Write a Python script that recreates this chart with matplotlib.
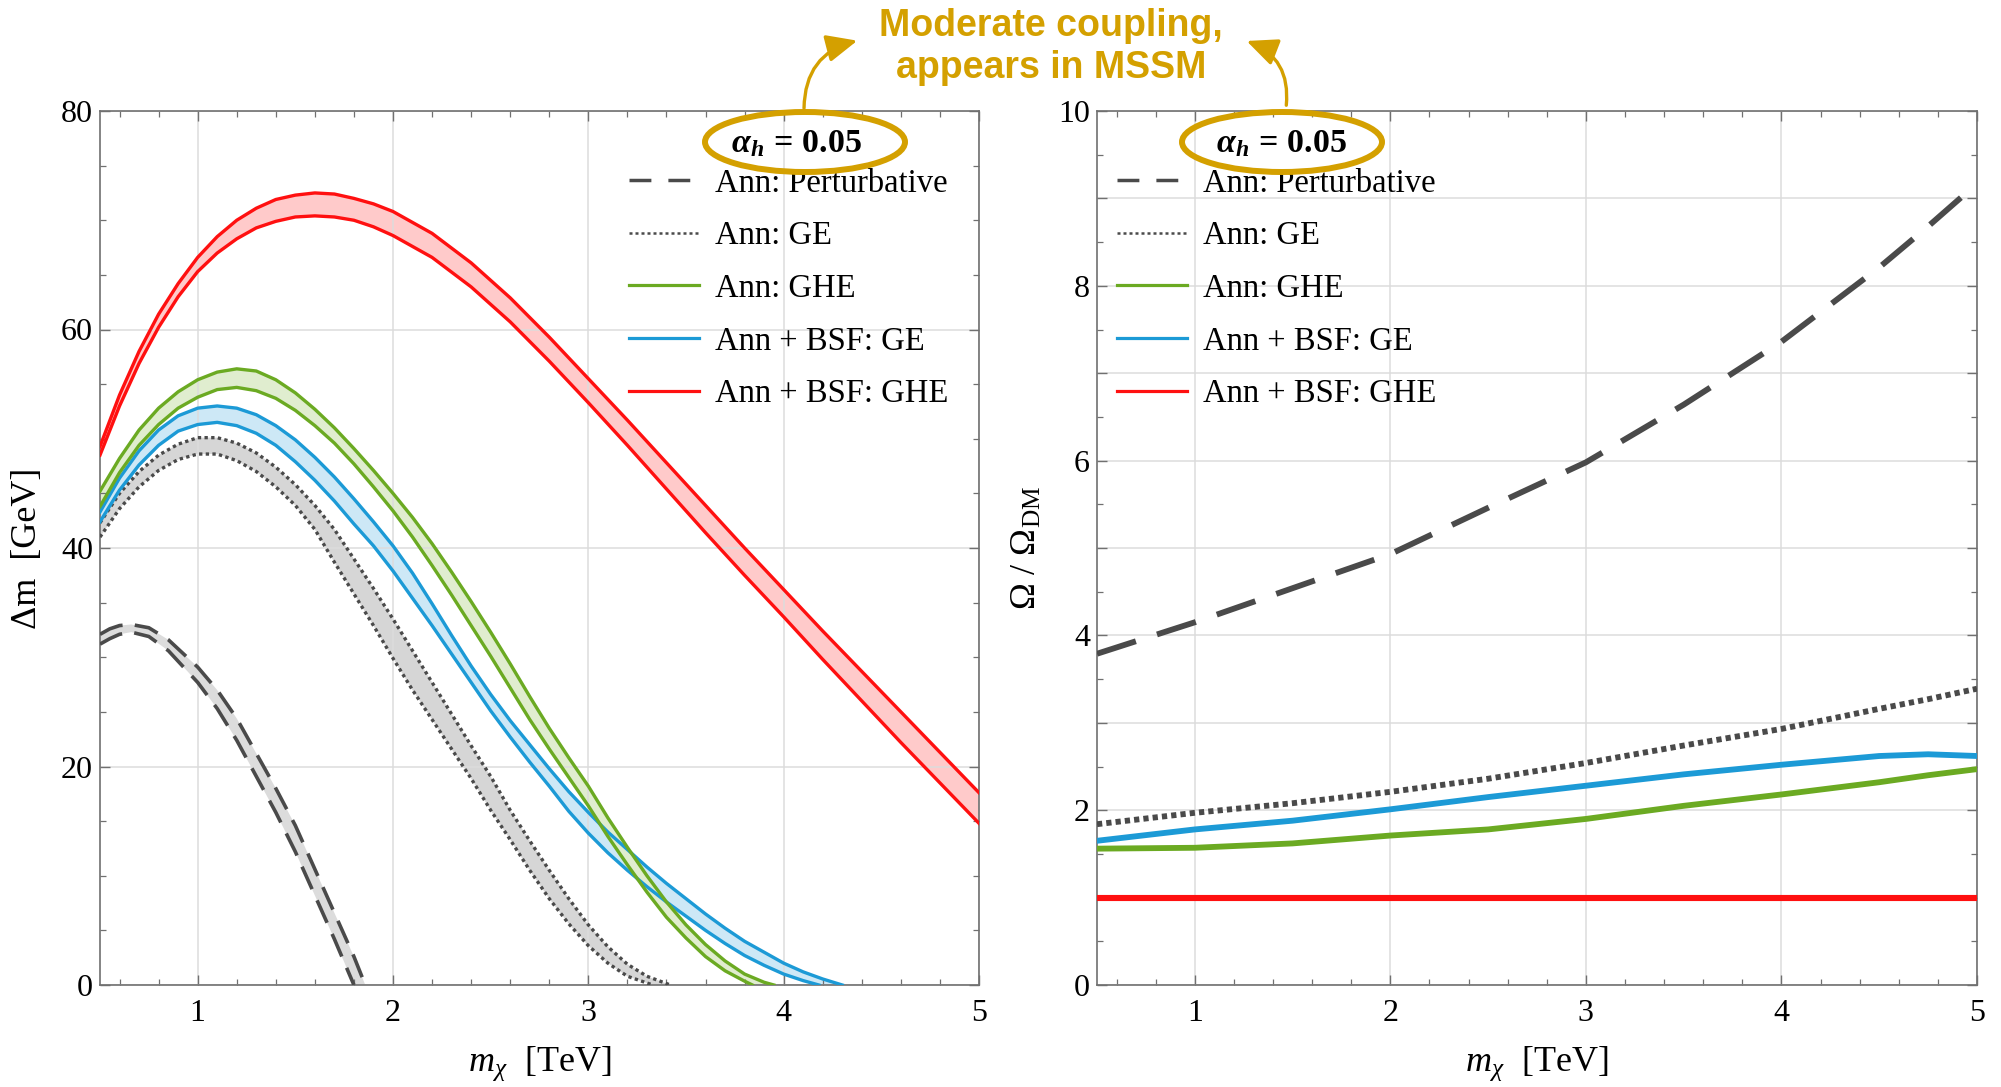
import numpy as np
import matplotlib
matplotlib.use("Agg")
import matplotlib.pyplot as plt
from matplotlib.patches import Ellipse, FancyArrowPatch
from matplotlib.lines import Line2D
from matplotlib.ticker import MultipleLocator, FuncFormatter

plt.rcParams['font.family'] = ['Liberation Serif', 'DejaVu Serif']
plt.rcParams['mathtext.fontset'] = 'custom'
plt.rcParams['mathtext.rm'] = 'Liberation Serif'
plt.rcParams['mathtext.it'] = 'Liberation Serif:italic'
plt.rcParams['mathtext.bf'] = 'Liberation Serif:bold'
plt.rcParams['mathtext.bfit'] = 'Liberation Serif:italic:bold'

# ---- left panel: mass splitting bands (upper / lower edge of each band) ----
# Ann: Perturbative
pert_x_up = [0.5, 0.55, 0.6, 0.66, 0.75, 0.85, 1.0, 1.1, 1.2, 1.3, 1.4, 1.5, 1.6, 1.7, 1.8, 1.858]
pert_up = [32.1, 32.6, 32.9, 33.0, 32.7, 31.6, 29.1, 27.0, 24.4, 21.2, 18.0, 14.6, 10.6, 6.6, 2.6, 0.0]
pert_x_lo = [0.5, 0.55, 0.6, 0.66, 0.75, 0.85, 1.0, 1.1, 1.2, 1.3, 1.4, 1.5, 1.6, 1.7, 1.75, 1.80]
pert_lo = [31.2, 31.7, 32.1, 32.3, 31.9, 30.6, 27.7, 25.3, 22.4, 19.1, 15.8, 12.2, 8.2, 4.2, 2.1, 0.0]

# Ann: GE
ge_x_up = [0.5, 0.6, 0.7, 0.8, 0.9, 1.0, 1.1, 1.2, 1.3, 1.4, 1.5, 1.6, 1.7, 1.8, 1.9, 2.0,
           2.1, 2.2, 2.3, 2.4, 2.5, 2.6, 2.7, 2.8, 2.9, 3.0, 3.1, 3.2, 3.3, 3.42]
ge_up = [42.3, 45.0, 47.0, 48.5, 49.5, 50.1, 50.1, 49.6, 48.7, 47.4, 45.8, 43.9, 41.7, 39.0, 36.3, 33.5,
         30.6, 27.7, 24.8, 21.9, 19.1, 16.0, 13.2, 10.5, 7.9, 5.5, 3.5, 1.9, 0.8, 0.0]
ge_x_lo = [0.5, 0.6, 0.7, 0.8, 0.9, 1.0, 1.1, 1.2, 1.3, 1.4, 1.5, 1.6, 1.7, 1.8, 1.9, 2.0,
           2.1, 2.2, 2.3, 2.4, 2.5, 2.6, 2.7, 2.8, 2.9, 3.0, 3.1, 3.2, 3.33]
ge_lo = [41.0, 43.6, 45.6, 47.1, 48.1, 48.6, 48.6, 48.0, 47.0, 45.6, 43.9, 41.7, 38.7, 35.8, 32.9, 29.9,
         27.0, 24.3, 21.6, 18.9, 16.0, 13.3, 10.5, 7.9, 5.6, 3.6, 2.0, 0.8, 0.0]

# Ann: GHE
ghe_x_up = [0.5, 0.6, 0.7, 0.8, 0.9, 1.0, 1.1, 1.2, 1.3, 1.4, 1.5, 1.6, 1.7, 1.8, 1.9, 2.0, 2.1, 2.2,
            2.3, 2.4, 2.5, 2.6, 2.7, 2.8, 2.9, 3.0, 3.1, 3.2, 3.3, 3.4, 3.5, 3.6, 3.7, 3.8, 3.9, 3.95]
ghe_up = [45.2, 48.2, 50.8, 52.8, 54.3, 55.4, 56.1, 56.4, 56.2, 55.4, 54.2, 52.7, 51.0, 49.1, 47.1, 45.0, 42.8, 40.4,
          37.8, 35.1, 32.3, 29.4, 26.4, 23.5, 20.8, 18.2, 15.3, 12.6, 10.0, 7.6, 5.5, 3.7, 2.2, 1.0, 0.25, 0.0]
ghe_x_lo = [0.5, 0.6, 0.7, 0.8, 0.9, 1.0, 1.1, 1.2, 1.3, 1.4, 1.5, 1.6, 1.7, 1.8, 1.9, 2.0, 2.1, 2.2,
            2.3, 2.4, 2.5, 2.6, 2.7, 2.8, 2.9, 3.0, 3.1, 3.2, 3.3, 3.4, 3.5, 3.6, 3.7, 3.8, 3.84]
ghe_lo = [43.8, 46.9, 49.4, 51.3, 52.8, 53.8, 54.5, 54.7, 54.4, 53.7, 52.6, 51.2, 49.6, 47.7, 45.6, 43.4, 41.0, 38.4,
          35.7, 32.9, 30.1, 27.2, 24.3, 21.6, 19.0, 16.4, 13.6, 11.0, 8.5, 6.2, 4.3, 2.6, 1.3, 0.35, 0.0]

# Ann + BSF: GE
bge_x_up = [0.5, 0.6, 0.7, 0.8, 0.9, 1.0, 1.1, 1.2, 1.3, 1.4, 1.5, 1.6, 1.7, 1.8, 1.9, 2.0, 2.1, 2.2,
            2.3, 2.4, 2.5, 2.6, 2.7, 2.8, 2.9, 3.0, 3.1, 3.2, 3.3, 3.4, 3.5, 3.6, 3.7, 3.8, 3.9, 4.0,
            4.1, 4.2, 4.3]
bge_up = [43.3, 46.4, 48.9, 50.8, 52.1, 52.8, 53.0, 52.8, 52.2, 51.2, 49.9, 48.3, 46.5, 44.5, 42.4, 40.2, 37.7, 34.9,
          32.0, 29.2, 26.6, 24.2, 22.0, 19.8, 17.7, 15.8, 14.0, 12.4, 10.8, 9.3, 7.9, 6.5, 5.2, 4.0, 3.0, 2.0,
          1.2, 0.55, 0.0]
bge_x_lo = [0.5, 0.6, 0.7, 0.8, 0.9, 1.0, 1.1, 1.2, 1.3, 1.4, 1.5, 1.6, 1.7, 1.8, 1.9, 2.0, 2.1, 2.2,
            2.3, 2.4, 2.5, 2.6, 2.7, 2.8, 2.9, 3.0, 3.1, 3.2, 3.3, 3.4, 3.5, 3.6, 3.7, 3.8, 3.9, 4.0,
            4.1, 4.18]
bge_lo = [42.4, 45.3, 47.6, 49.4, 50.7, 51.3, 51.5, 51.2, 50.5, 49.4, 47.9, 46.2, 44.3, 42.2, 40.2, 37.9, 35.4, 32.9,
          30.3, 27.7, 25.1, 22.7, 20.4, 18.2, 15.9, 13.9, 12.1, 10.5, 9.0, 7.6, 6.3, 5.0, 3.8, 2.7, 1.8, 1.0,
          0.4, 0.0]

# Ann + BSF: GHE
bghe_x = [0.5, 0.6, 0.7, 0.8, 0.9, 1.0, 1.1, 1.2, 1.3, 1.4, 1.5, 1.6, 1.7, 1.8, 1.9, 2.0, 2.2, 2.4, 2.6, 2.8,
          3.0, 3.2, 3.4, 3.6, 3.8, 4.0, 4.2, 4.4, 4.6, 4.8, 5.0]
bghe_up = [49.3, 54.0, 58.0, 61.4, 64.2, 66.6, 68.5, 70.0, 71.1, 71.9, 72.3, 72.5, 72.4, 72.0, 71.5, 70.8, 68.8, 66.1,
           62.9, 59.3, 55.5, 51.7, 47.8, 43.9, 40.0, 36.2, 32.4, 28.7, 25.0, 21.3, 17.6]
bghe_lo = [48.5, 53.0, 56.9, 60.2, 63.0, 65.3, 67.0, 68.3, 69.3, 69.9, 70.3, 70.4, 70.3, 70.0, 69.4, 68.6, 66.6, 63.9,
           60.7, 57.1, 53.3, 49.4, 45.4, 41.4, 37.5, 33.7, 29.8, 26.0, 22.2, 18.5, 14.8]

# ---- right panel: relic abundance ratio ----
om_x = [0.5, 1.0, 1.5, 2.0, 2.5, 3.0, 3.5, 4.0, 4.5, 4.75, 5.0]
om_pert = [3.79, 4.15, 4.54, 4.93, 5.46, 5.98, 6.64, 7.36, 8.21, 8.68, 9.17]
om_ge = [1.84, 1.97, 2.08, 2.21, 2.36, 2.54, 2.74, 2.93, 3.16, 3.27, 3.39]
om_ghe = [1.56, 1.57, 1.62, 1.71, 1.78, 1.90, 2.05, 2.18, 2.32, 2.40, 2.47]
om_bge = [1.65, 1.78, 1.88, 2.01, 2.15, 2.28, 2.41, 2.52, 2.62, 2.64, 2.62]
om_bghe = [1.0, 1.0, 1.0, 1.0, 1.0, 1.0, 1.0, 1.0, 1.0, 1.0, 1.0]

labels = ['Ann: Perturbative', 'Ann: GE', 'Ann: GHE', 'Ann + BSF: GE', 'Ann + BSF: GHE']

GOLD = '#D4A000'
DARK = '#4a4a4a'
GREEN = '#6BAA22'
BLUE = '#1C9AD6'
RED = '#FF1010'
FRAME = '#707070'

W, H = 2001, 1087
fig = plt.figure(figsize=(W / 100, H / 100), dpi=100)
axL = fig.add_axes([100 / W, 1 - 985 / H, 879 / W, 874 / H])
axR = fig.add_axes([1097 / W, 1 - 985 / H, 880 / W, 874 / H])

DASH_L = (0, (6.8, 3.4))
DOT_L = (0, (1, 1))


def band(ax, xu, yu, xl, yl, fill, color, ls, lw):
    xu, yu, xl, yl = map(np.asarray, (xu, yu, xl, yl))
    ax.fill(np.r_[xu, xl[::-1]], np.r_[yu, yl[::-1]], color=fill, lw=0, zorder=1)
    for xx, yy in ((xu, yu), (xl, yl)):
        ax.plot(xx, yy, color=color, ls=ls, lw=lw, zorder=3,
                dash_capstyle='butt', solid_joinstyle='round')


band(axL, pert_x_up, pert_up, pert_x_lo, pert_lo, '#dcdcdc', DARK, DASH_L, 2.6)
band(axL, ge_x_up, ge_up, ge_x_lo, ge_lo, '#d6d6d6', DARK, DOT_L, 2.4)
band(axL, bge_x_up, bge_up, bge_x_lo, bge_lo, '#cde8f6', BLUE, '-', 2.4)
band(axL, ghe_x_up, ghe_up, ghe_x_lo, ghe_lo, '#e0edcf', GREEN, '-', 2.4)
band(axL, bghe_x, bghe_up, bghe_x, bghe_lo, '#ffcaca', RED, '-', 2.4)

axR.plot(om_x, om_pert, color=DARK, ls=(0, (7.0, 3.8)), lw=4.2, dash_capstyle='butt', zorder=3)
axR.plot(om_x, om_ge, color=DARK, ls=(0, (0.9, 0.7)), lw=4.2, dash_capstyle='butt', zorder=3)
axR.plot(om_x, om_ghe, color=GREEN, lw=4.2, zorder=3)
axR.plot(om_x, om_bge, color=BLUE, lw=4.2, zorder=3)
axR.plot(om_x, om_bghe, color=RED, lw=4.4, zorder=3)

handles = [
    Line2D([], [], color=DARK, ls=(0, (6.3, 4.9)), lw=2.5, dash_capstyle='butt'),
    Line2D([], [], color=DARK, ls=(0, (1.2, 1.2)), lw=1.8, dash_capstyle='butt'),
    Line2D([], [], color=GREEN, lw=2.3),
    Line2D([], [], color=BLUE, lw=2.3),
    Line2D([], [], color=RED, lw=2.3),
]

for ax, ylim, ymaj, ymin, lx in ((axL, 80, 20, 5, 629), (axR, 10, 1, 0.5, 1117)):
    ax.set_xlim(0.5, 5)
    ax.set_ylim(0, ylim)
    ax.xaxis.set_major_locator(MultipleLocator(1))
    ax.xaxis.set_minor_locator(MultipleLocator(0.2))
    ax.yaxis.set_major_locator(MultipleLocator(ymaj))
    ax.yaxis.set_minor_locator(MultipleLocator(ymin))
    ax.grid(True, which='major', color='#dcdcdc', lw=1.1, zorder=0)
    ax.tick_params(which='both', direction='in', top=True, right=True, color=FRAME,
                   labelsize=23, labelcolor='black')
    ax.tick_params(which='major', length=7, width=1.0)
    ax.tick_params(which='minor', length=4, width=0.9)
    ax.tick_params(axis='x', pad=10)
    ax.tick_params(axis='y', pad=5)
    for sp in ax.spines.values():
        sp.set_color(FRAME)
        sp.set_linewidth(1.2)
    ax.set_xlabel(r'$m_\chi$  [TeV]', fontsize=26)
    ax.xaxis.set_label_coords(0.5, -0.068)
    ax.legend(handles, labels, loc='upper left', bbox_to_anchor=(lx / W, 1 - 168 / H),
              bbox_transform=fig.transFigure, frameon=False, fontsize=23.5,
              handlelength=2.15, handletextpad=0.5, labelspacing=0.68,
              borderpad=0, borderaxespad=0)

axR.yaxis.set_major_formatter(FuncFormatter(lambda v, p: '%d' % v if int(round(v)) % 2 == 0 else ''))

axL.set_ylabel('Δm  [GeV]', fontsize=26)
axL.yaxis.set_label_coords(-0.082, 0.5)
axL.yaxis.label.set_va('center')
axR.set_ylabel(r'Ω / Ω$_{\rm DM}$', fontsize=26)
axR.yaxis.set_label_coords(-0.0795, 0.5)
axR.yaxis.label.set_va('center')

# coupling tags with gold rings and arrows up to the note
for cx, tx in ((805, 796), (1282, 1281)):
    fig.add_artist(Ellipse((cx / W, 1 - 142 / H), 200 / W, 60 / H, transform=fig.transFigure,
                           fill=False, ec=GOLD, lw=4.3, zorder=5))
    fig.text(tx / W, 1 - 144 / H, r'$\mathbfit{\alpha_h}\mathbf{\,=\,0.05}$', ha='center', va='center',
             fontsize=24.5, zorder=6)

for (x0, y0), (x1, y1), rad in (((804, 111), (860, 40), -0.4), ((1286, 108), (1244, 40), 0.4)):
    fig.add_artist(FancyArrowPatch((x0 / W, 1 - y0 / H), (x1 / W, 1 - y1 / H), transform=fig.transFigure,
                                   connectionstyle='arc3,rad=%g' % rad,
                                   arrowstyle='-|>,head_length=0.85,head_width=0.38',
                                   mutation_scale=22, color=GOLD, lw=2.4, zorder=6))

fig.text(1051 / W, 1 - 8 / H, 'Moderate coupling,\nappears in MSSM', ha='center', va='top',
         fontsize=27, fontweight='bold', color=GOLD, family=['Liberation Sans', 'DejaVu Sans'],
         linespacing=1.2)

fig.savefig('out.png', dpi=100)
